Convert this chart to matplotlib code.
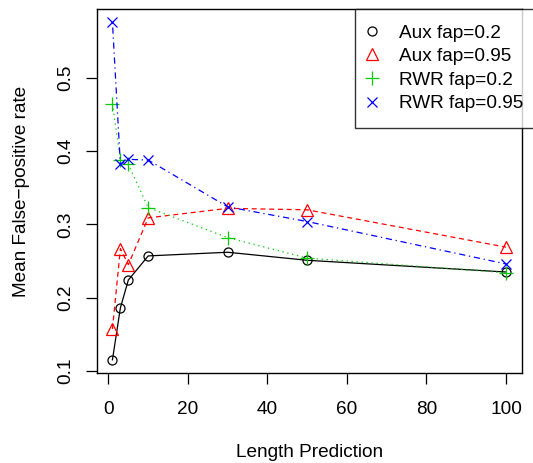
import matplotlib
matplotlib.use("Agg")
import matplotlib.pyplot as plt
from matplotlib.lines import Line2D

plt.rcParams['font.family'] = ['Liberation Sans', 'DejaVu Sans']

length = [1, 3, 5, 10, 30, 50, 100]
aux_02 = [0.115, 0.186, 0.224, 0.257, 0.262, 0.251, 0.235]
aux_095 = [0.157, 0.267, 0.245, 0.309, 0.322, 0.320, 0.269]
rwr_02 = [0.465, 0.388, 0.382, 0.323, 0.282, 0.254, 0.234]
rwr_095 = [0.576, 0.382, 0.389, 0.388, 0.324, 0.304, 0.246]

labels = ["Aux fap=0.2", "Aux fap=0.95", "RWR fap=0.2", "RWR fap=0.95"]
x_ticks = [0, 20, 40, 60, 80, 100]
y_ticks = [0.1, 0.2, 0.3, 0.4, 0.5]

W, H = 533, 463
fig = plt.figure(figsize=(W / 100, H / 100), dpi=100)
ax = fig.add_axes([96.7 / W, 1 - 373.3 / H, (521.7 - 96.7) / W, (373.3 - 9) / H])

fs = 13.7
lw = 0.9
green = "#00CD00"
ms_o, ms_t, ms_p, ms_x = 6.5, 8.5, 9.5, 7
ax.plot(length, aux_02, color="black", linestyle="-", linewidth=lw,
        marker="o", markersize=ms_o, markerfacecolor="none", markeredgewidth=lw)
ax.plot(length, aux_095, color="red", linestyle=(0, (4, 3)), linewidth=lw,
        marker="^", markersize=ms_t, markerfacecolor="none", markeredgewidth=lw)
ax.plot(length, rwr_02, color=green, linestyle=(0, (1, 3)), linewidth=lw,
        marker="+", markersize=ms_p, markeredgewidth=lw)
ax.plot(length, rwr_095, color="blue", linestyle=(0, (1, 3, 5, 3)), linewidth=lw,
        marker="x", markersize=ms_x, markeredgewidth=lw)

xmin, xmax = min(length), max(length)
dx = (xmax - xmin) * 0.04
ax.set_xlim(xmin - dx, xmax + dx)
allv = aux_02 + aux_095 + rwr_02 + rwr_095
ymin, ymax = min(allv), max(allv)
dy = (ymax - ymin) * 0.04
ax.set_ylim(ymin - dy, ymax + dy)

ax.set_xticks(x_ticks)
ax.set_xticklabels([str(v) for v in x_ticks], fontsize=fs)
ax.set_yticks(y_ticks)
ax.set_yticklabels([f"{v:.1f}" for v in y_ticks], fontsize=fs, rotation=90, va="center")
ax.tick_params(direction="out", length=8, width=0.9)
ax.tick_params(axis="x", pad=12)
ax.tick_params(axis="y", pad=8)
for s in ax.spines.values():
    s.set_linewidth(1.0)

ax.set_xlabel("Length Prediction", fontsize=fs, labelpad=19)
ax.set_ylabel("Mean False\u2212positive rate", fontsize=fs, labelpad=20)

handles = [
    Line2D([], [], color="black", linestyle="none", marker="o", markersize=ms_o,
           markerfacecolor="none", markeredgewidth=lw),
    Line2D([], [], color="red", linestyle="none", marker="^", markersize=ms_t,
           markerfacecolor="none", markeredgewidth=lw),
    Line2D([], [], color=green, linestyle="none", marker="+", markersize=ms_p,
           markeredgewidth=lw),
    Line2D([], [], color="blue", linestyle="none", marker="x", markersize=ms_x,
           markeredgewidth=lw),
]
leg = fig.legend(handles, labels, loc="upper left",
                 bbox_to_anchor=(355 / W, 1 - 9 / H),
                 fontsize=fs, frameon=True, fancybox=False,
                 handlelength=0.2, handletextpad=1.3, labelspacing=0.33,
                 borderpad=0.8, borderaxespad=0)
leg.get_frame().set_edgecolor("black")
leg.get_frame().set_linewidth(1.0)

fig.savefig("out.png", dpi=100)
